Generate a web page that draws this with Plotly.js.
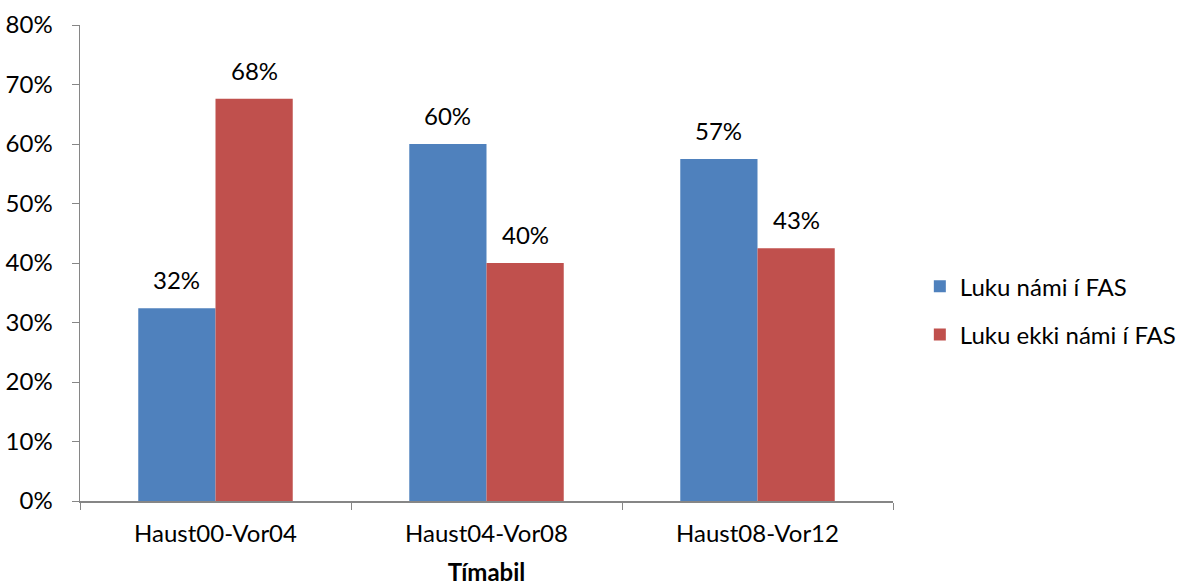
<!DOCTYPE html>
<html>
<head>
<meta charset="utf-8">
<script src="https://cdn.plot.ly/plotly-3.0.1.min.js"></script>
<style>html,body{margin:0;padding:0;background:#fff;}#chart{width:1180px;height:586px;}</style>
</head>
<body>
<div id="chart"></div>
<script>
const categories = ["Haust00-Vor04", "Haust04-Vor08", "Haust08-Vor12"];
const seriesNames = ["Luku námi í FAS", "Luku ekki námi í FAS"];
const valuesNami = [0.324, 0.600, 0.575];
const valuesEkki = [0.676, 0.400, 0.425];
const labelsNami = ["32%", "60%", "57%"];
const labelsEkki = ["68%", "40%", "43%"];
const yTickVals = [0, 0.1, 0.2, 0.3, 0.4, 0.5, 0.6, 0.7, 0.8];
const yTickText = ["0%", "10%", "20%", "30%", "40%", "50%", "60%", "70%", "80%"];
const xTitle = "Tímabil";

const FONT = "Lato, 'Open Sans', sans-serif";
const FS = 24;
const colors = ["#4F81BD", "#C0504D"];
const bargap = 0.43;
const barW = (1 - bargap) / 2;

const traces = [
  {type: "bar", name: seriesNames[0], x: categories, y: valuesNami, legendgroup: "a",
   marker: {color: colors[0], line: {width: 0}}, hoverinfo: "y"},
  {type: "bar", name: seriesNames[1], x: categories, y: valuesEkki, legendgroup: "b",
   marker: {color: colors[1], line: {width: 0}}, hoverinfo: "y"}
];

const annotations = [];
[[valuesNami, labelsNami, -barW / 2], [valuesEkki, labelsEkki, barW / 2]].forEach(([vals, labs, off]) => {
  vals.forEach((v, i) => {
    annotations.push({x: i + off, y: v, xref: "x", yref: "y", text: labs[i],
      showarrow: false, yanchor: "bottom", yshift: 12,
      font: {family: FONT, size: FS, color: "#000"}});
  });
});

const layout = {
  width: 1180, height: 586,
  margin: {l: 80, r: 287, t: 25, b: 85, autoexpand: false},
  paper_bgcolor: "#fff", plot_bgcolor: "#fff",
  barmode: "group", bargap: bargap, bargroupgap: 0,
  font: {family: FONT, size: FS, color: "#000"},
  xaxis: {
    type: "category", tickson: "boundaries", ticks: "outside", ticklen: 7,
    tickcolor: "#868686", showline: true, linecolor: "#868686", linewidth: 1.5,
    showgrid: false, zeroline: false, automargin: false, ticklabelstandoff: 11,
    tickfont: {family: FONT, size: FS, color: "#000"},
    title: {text: "<b>" + xTitle + "</b>", font: {family: FONT, size: FS, color: "#000"}, standoff: 28}
  },
  yaxis: {
    range: [0, 0.8], tickvals: yTickVals, ticktext: yTickText, ticks: "outside", ticklen: 7,
    tickcolor: "#868686", showline: true, linecolor: "#868686", linewidth: 1.5,
    showgrid: false, zeroline: false, automargin: false, ticklabelstandoff: 14,
    tickfont: {family: FONT, size: FS, color: "#000"}
  },
  legend: {x: 1.033, y: 0.40, xanchor: "left", yanchor: "middle",
    font: {family: FONT, size: FS, color: "#000"}, tracegroupgap: 14, itemwidth: 30,
    traceorder: "grouped"},
  showlegend: true,
  annotations: annotations
};

Plotly.newPlot("chart", traces, layout, {displayModeBar: false, staticPlot: true});
</script>
</body>
</html>
